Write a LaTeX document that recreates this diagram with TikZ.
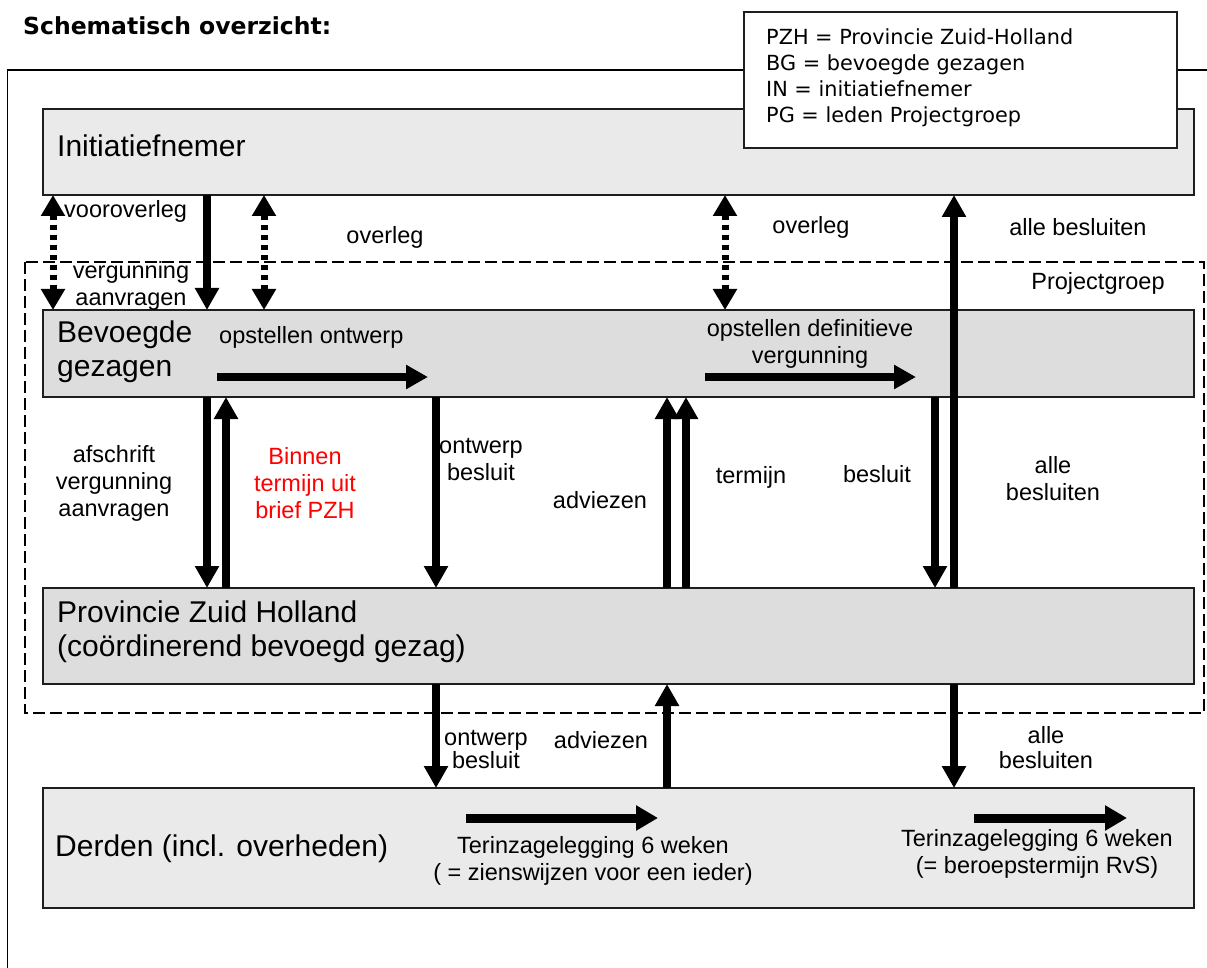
\documentclass[tikz,border=0pt]{standalone}
\usepackage{fontspec}
\setmainfont{Liberation Sans}
\newfontfamily\verd{DejaVu Sans}
\usetikzlibrary{arrows.meta}
\definecolor{lightbox}{RGB}{234,234,234}
\definecolor{midbox}{RGB}{221,221,221}
\definecolor{boxline}{RGB}{30,30,30}
\tikzset{
  box/.style={draw=boxline, line width=1.3pt, inner sep=0pt, outer sep=0pt, anchor=north west},
  boxtext/.style={inner sep=0pt, anchor=base west, font=\fontsize{30}{34}\selectfont},
  lbl/.style={inner sep=0pt, align=center, font=\fontsize{23.5}{27}\selectfont},
  legtext/.style={inner sep=0pt, anchor=base west, font=\verd\fontsize{20.8}{26}\selectfont},
  fat/.style={line width=8pt, -{Triangle[width=23pt,length=22pt]}},
  fatwide/.style={line width=9pt, -{Triangle[width=24pt,length=22pt]}},
  dotted2/.style={line width=7pt, dash pattern=on 5.5pt off 4.5pt, {Triangle[width=23pt,length=21pt]}-{Triangle[width=23pt,length=21pt]}},
}
\begin{document}
\begin{tikzpicture}[x=1pt,y=-1pt]
\useasboundingbox (0,0) rectangle (1207,968);
\fill[white] (0,0) rectangle (1207,968);
% outer frame (clipped)
\begin{scope}
\clip (0,0) rectangle (1207,968);
\draw[line width=1.5pt] (7.5,70) rectangle (1230,1000);
\end{scope}
% title
\node[inner sep=0pt, anchor=base west, font=\verd\bfseries\fontsize{23.5}{28}\selectfont] (title) at (23,35) {Schematisch overzicht:};
% projectgroep dashed frame
\draw[line width=1.2pt, dash pattern=on 12pt off 5pt] (25,262) rectangle (1204,713);
\node[lbl] (pglbl) at (1098,283) {Projectgroep};
% boxes
\node[box, fill=lightbox, minimum width=1151pt, minimum height=86pt] (ini) at (43,109) {};
\node[box, fill=midbox, minimum width=1151pt, minimum height=87pt] (bg) at (43,310) {};
\node[box, fill=midbox, minimum width=1151pt, minimum height=96pt] (pzh) at (43,588) {};
\node[box, fill=lightbox, minimum width=1151pt, minimum height=120pt] (der) at (43,788) {};
% legend
\node[box, fill=white, line width=1.4pt, minimum width=433pt, minimum height=136pt] (leg) at (744,12) {};
\node[legtext] (leg1) at (766,44.5) {PZH = Provincie Zuid-Holland};
\node[legtext] (leg2) at (766,70.5) {BG = bevoegde gezagen};
\node[legtext] (leg3) at (766,96.5) {IN = initiatiefnemer};
\node[legtext] (leg4) at (766,122.5) {PG = leden Projectgroep};
% box texts
\node[boxtext] (initxt) at (57,157) {Initiatiefnemer};
\node[boxtext] (bgtxt1) at (57,342) {Bevoegde};
\node[boxtext] (bgtxt2) at (57,376) {gezagen};
\node[boxtext] (pzhtxt1) at (57,622.5) {Provincie Zuid Holland};
\node[boxtext] (pzhtxt2) at (57,656.5) {(coördinerend bevoegd gezag)};
\node[boxtext] (dertxt) at (55,856.5) {Derden (incl. overheden)};
% x positions
\coordinate (xa) at (53,0);
\coordinate (xb) at (207,0);
\coordinate (xc) at (264,0);
\coordinate (xd) at (725,0);
\coordinate (xe) at (954,0);
\coordinate (xf) at (226,0);
\coordinate (xg) at (436,0);
\coordinate (xh) at (667,0);
\coordinate (xi) at (686,0);
\coordinate (xj) at (935,0);
% Initiatiefnemer <-> Bevoegde gezagen
\draw[dotted2] (ini.south -| xa) -- (bg.north -| xa);
\draw[fat] (ini.south -| xb) -- (bg.north -| xb);
\draw[dotted2] (ini.south -| xc) -- (bg.north -| xc);
\draw[dotted2] (ini.south -| xd) -- (bg.north -| xd);
\draw[fat] (pzh.north -| xe) -- (ini.south -| xe);
% horizontal arrows in Bevoegde gezagen
\coordinate (h1a) at (217,377);
\coordinate (h1b) at (428,377);
\coordinate (h2a) at (705,377);
\coordinate (h2b) at (916,377);
\draw[fat] (h1a) -- (h1b);
\draw[fat] (h2a) -- (h2b);
% Bevoegde gezagen <-> PZH
\draw[fat] (bg.south -| xb) -- (pzh.north -| xb);
\draw[fat] (pzh.north -| xf) -- (bg.south -| xf);
\draw[fat] (bg.south -| xg) -- (pzh.north -| xg);
\draw[fat] (pzh.north -| xh) -- (bg.south -| xh);
\draw[fat] (pzh.north -| xi) -- (bg.south -| xi);
\draw[fat] (bg.south -| xj) -- (pzh.north -| xj);
% PZH <-> Derden
\draw[fat] (pzh.south -| xg) -- (der.north -| xg);
\draw[fat] (der.north -| xh) -- (pzh.south -| xh);
\draw[fat] (pzh.south -| xe) -- (der.north -| xe);
% horizontal arrows in Derden
\coordinate (h3a) at (466,818);
\coordinate (h3b) at (658,818);
\coordinate (h4a) at (974,818);
\coordinate (h4b) at (1127,818);
\draw[fatwide] (h3a) -- (h3b);
\draw[fatwide] (h4a) -- (h4b);
% labels
\node[lbl, anchor=west] (l1) at (64,211) {vooroverleg};
\node[lbl] (l2) at (131,286) {vergunning\\aanvragen};
\node[lbl] (l3) at (385,237) {overleg};
\node[lbl] (l4) at (811,227) {overleg};
\node[lbl] (l5) at (1078,227) {alle besluiten};
\node[lbl, anchor=west] (l6) at (219,337) {opstellen ontwerp};
\node[lbl] (l7) at (810,343.5) {opstellen definitieve\\vergunning};
\node[lbl] (l8) at (114,483) {afschrift\\vergunning\\aanvragen};
\node[lbl, text=red] (l9) at (305,483) {Binnen\\termijn uit\\brief PZH};
\node[lbl, anchor=west] (l10) at (439,459.5) {ontwerp\\besluit};
\node[lbl] (l11) at (600,500) {adviezen};
\node[lbl] (l12) at (751,477) {termijn};
\node[lbl] (l13) at (877,474) {besluit};
\node[lbl] (l14) at (1053,479) {alle\\besluiten};
\node[lbl, anchor=west, font=\fontsize{23.5}{23}\selectfont] (l15) at (444,750) {ontwerp\\besluit};
\node[lbl] (l16) at (601,740) {adviezen};
\node[lbl, font=\fontsize{23.5}{25}\selectfont] (l17) at (1046,748) {alle\\besluiten};
\node[lbl] (l18) at (593,860.5) {Terinzagelegging 6 weken\\( = zienswijzen voor een ieder)};
\node[lbl] (l19) at (1037,854) {Terinzagelegging 6 weken\\(= beroepstermijn RvS)};
\end{tikzpicture}
\end{document}
